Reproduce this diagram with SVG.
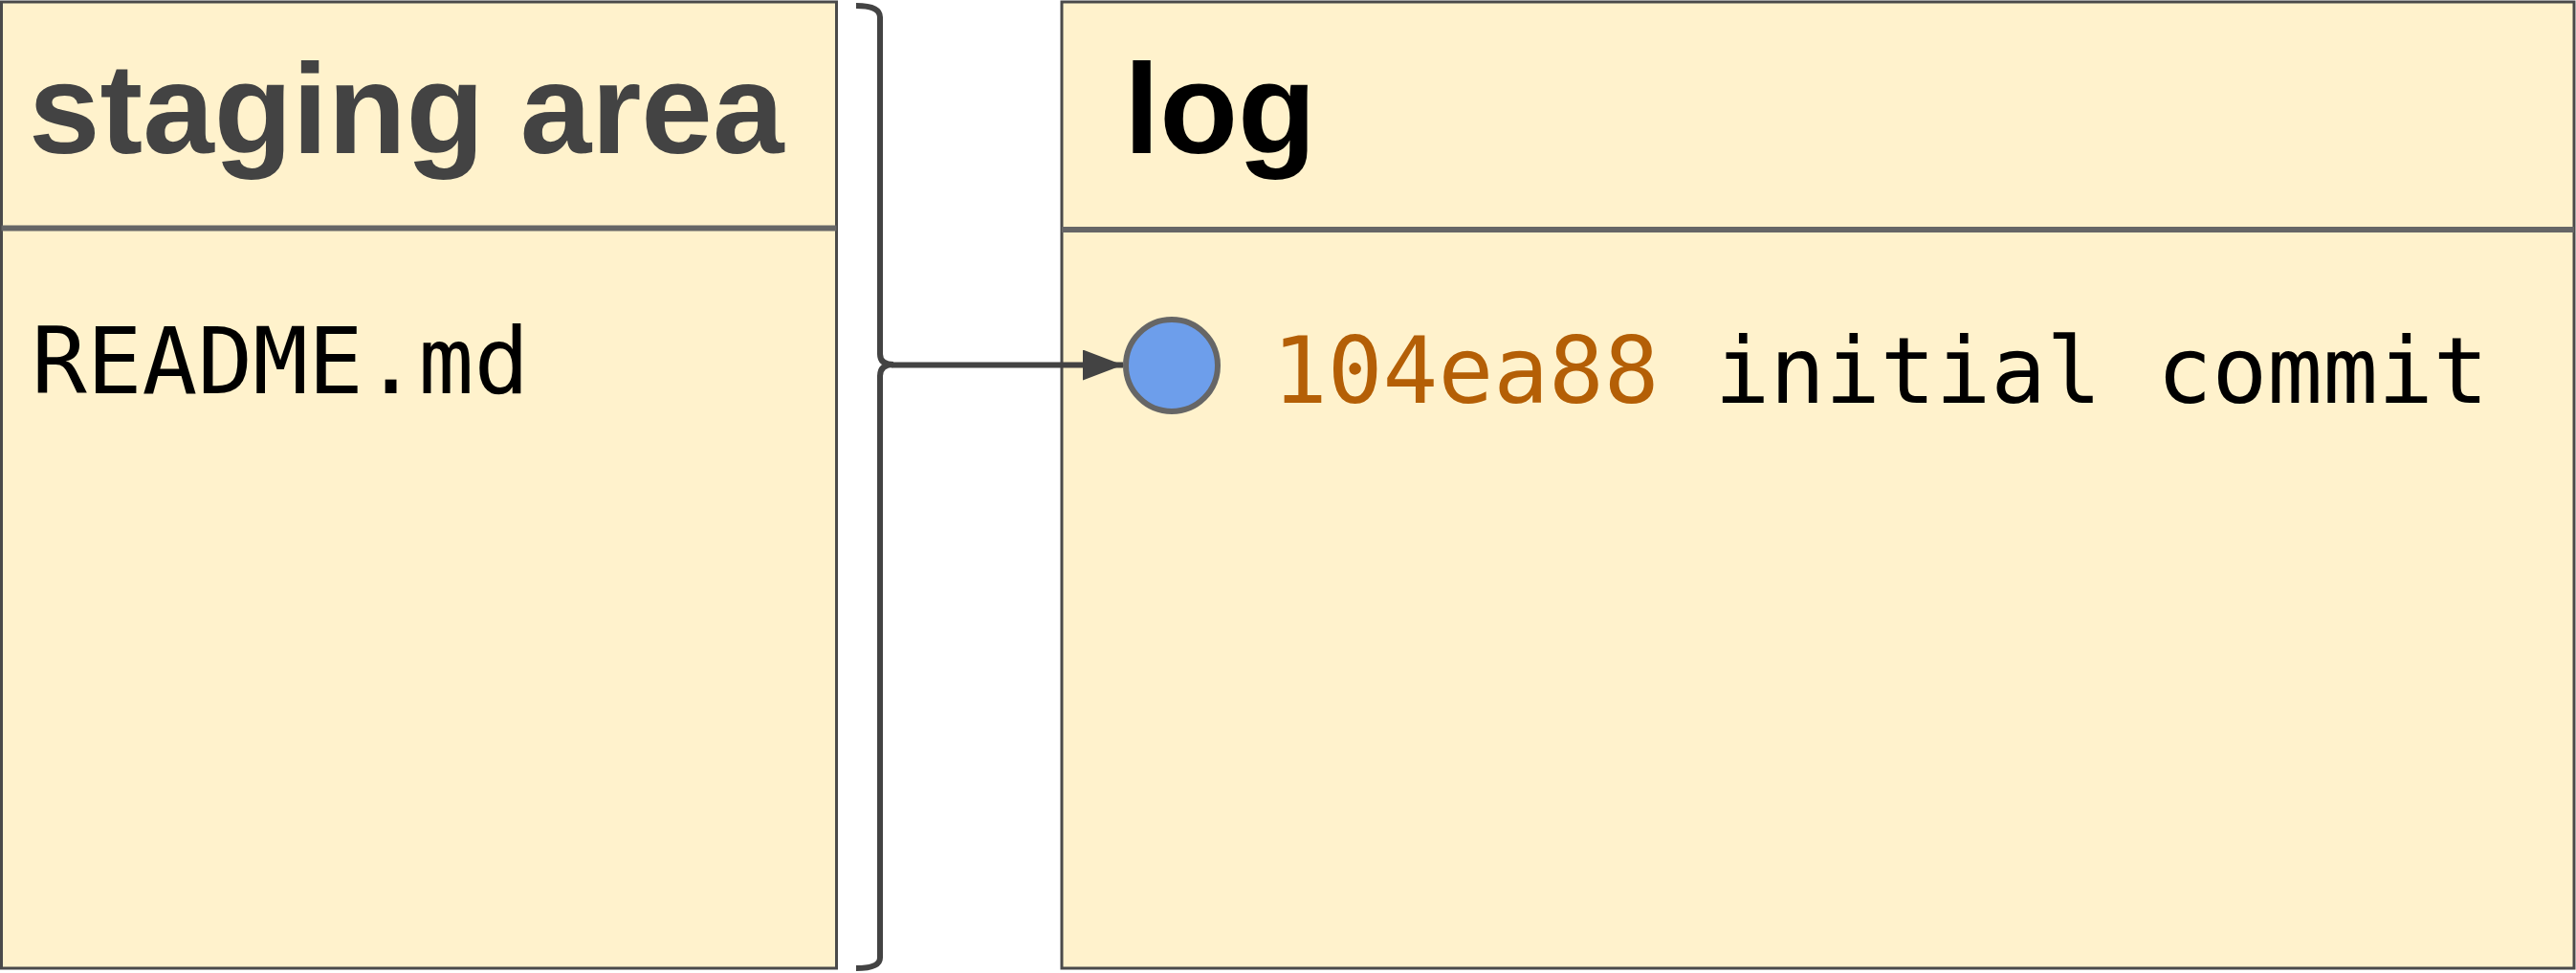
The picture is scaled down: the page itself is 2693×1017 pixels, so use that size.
<svg xmlns="http://www.w3.org/2000/svg" width="2693" height="1017" viewBox="0 0 2693 1017">
  <style>
    .box { fill: #fff2cc; stroke: #4a4a4a; stroke-width: 3; }
    .divider { stroke: #666666; stroke-width: 6; fill: none; }
    .head { font-family: "Liberation Sans", Arial, sans-serif; font-weight: bold; font-size: 134px; }
    .mono { font-family: "DejaVu Sans Mono", "Liberation Mono", monospace; font-size: 96px; }
    .conn { stroke: #434343; stroke-width: 6; fill: none; }
  </style>
  <defs>
    <marker id="arrow" markerUnits="userSpaceOnUse" markerWidth="44" markerHeight="34" refX="42" refY="16" orient="auto">
      <path d="M0,0 L42,16 L0,32 Z" fill="#434343"/>
    </marker>
  </defs>
  <rect width="2693" height="1017" fill="#ffffff"/>

  <g id="staging-area">
    <rect class="box" x="1.5" y="2" width="873" height="1010"/>
    <line class="divider" x1="1.5" y1="238.5" x2="874.5" y2="238.5"/>
    <text class="head" x="30" y="160" fill="#434343">staging area</text>
    <text class="mono" x="33" y="411" fill="#000000">README.md</text>
  </g>

  <g id="log">
    <rect class="box" x="1110" y="2" width="1581" height="1010"/>
    <line class="divider" x1="1110" y1="240" x2="2691" y2="240"/>
    <text class="head" x="1175" y="160" fill="#000000">log</text>
  </g>

  <g id="commit-104ea88">
    <circle cx="1225" cy="382" r="48" fill="#6d9eeb" stroke="#666666" stroke-width="6"/>
    <text class="mono" x="1330" y="421"><tspan fill="#b45f06">104ea88</tspan><tspan fill="#000000"> initial commit</tspan></text>
  </g>

  <g id="connectors">
    <path class="conn" d="M895,6 Q920,6 920,18 L920,370 Q920,381 934,381 Q920,381 920,393 L920,1001 Q920,1012 895,1012"/>
    <path class="conn" d="M932,381.5 L1174,381.5" marker-end="url(#arrow)"/>
  </g>
</svg>
